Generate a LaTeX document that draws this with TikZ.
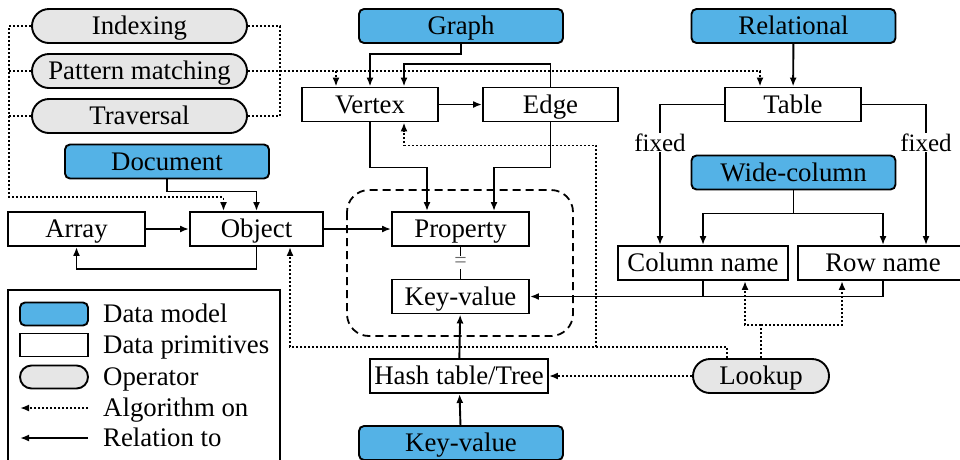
\documentclass[tikz,border=0pt]{standalone}
\usepackage{fontspec}
\setmainfont{Liberation Serif}
\usetikzlibrary{arrows.meta}

\definecolor{modelblue}{RGB}{84,178,230}
\definecolor{opgray}{RGB}{230,230,230}

\tikzset{
  base/.style={draw, line width=1.9pt, inner sep=0pt, text height=17.5pt, text depth=0pt,
    font=\fontsize{26.8}{30}\selectfont},
  model/.style={base, fill=modelblue, rounded corners=5pt, minimum width=204pt, minimum height=34pt},
  prim/.style={base, fill=white, minimum height=34pt},
  oper/.style={base, fill=opgray, rounded corners=17pt, minimum height=34pt},
  legtext/.style={anchor=west, inner sep=0pt, text height=17.5pt, text depth=0pt,
    font=\fontsize{26.8}{30}\selectfont},
  tip/.style={-{Latex[length=9pt,width=7pt]}},
  line/.style={line width=1.9pt},
  rel/.style={line, tip},
  algline/.style={line width=1.8pt, dash pattern=on 2pt off 2pt},
  alg/.style={algline, tip},
  lbl/.style={fill=white, inner sep=1pt, font=\fontsize{25}{28}\selectfont},
  groupbox/.style={line width=1.8pt, dash pattern=on 8pt off 5pt, rounded corners=22pt},
}

\begin{document}
\begin{tikzpicture}[x=1pt, y=-1pt]
\useasboundingbox (0,0) rectangle (960,459);
\clip (0,0) rectangle (960,459);

% operators
\node[oper, minimum width=215pt] (indexing)  at (139.5,26) {Indexing};
\node[oper, minimum width=215pt] (pattern)   at (139.5,71) {Pattern matching};
\node[oper, minimum width=215pt] (traversal) at (139.5,116) {Traversal};
\node[oper, minimum width=136pt] (lookup)    at (761,376) {Lookup};

% data models
\node[model] (document)   at (167,161.5) {Document};
\node[model] (graph)      at (461,26) {Graph};
\node[model] (relational) at (793.5,26) {Relational};
\node[model] (widecol)    at (793.5,172.5) {Wide-column};
\node[model] (kvmodel)    at (461,443) {Key-value};

% data primitives
\node[prim, minimum width=137pt] (array)    at (76.5,229) {Array};
\node[prim, minimum width=133pt] (object)   at (256.5,229) {Object};
\node[prim, minimum width=136pt] (vertex)   at (370,104.5) {Vertex};
\node[prim, minimum width=135pt] (edge)     at (550.5,104.5) {Edge};
\node[prim, minimum width=137pt] (property) at (460.5,229) {Property};
\node[prim, minimum width=137pt] (keyvalue) at (460.5,296.5) {Key-value};
\node[prim, minimum width=178pt] (hash)     at (459,376) {Hash table/Tree};
\node[prim, minimum width=136pt] (table)    at (793,104.5) {Table};
\node[prim, minimum width=170pt] (colname)  at (703,263) {Column name};
\node[prim, minimum width=170pt] (rowname)  at (883,263) {Row name};

% group around property / key-value
\draw[groupbox] (347,190) rectangle (573,336);

% relations
\draw[rel] (graph.south) -- ++(0,10) -| (vertex.north);
\draw[rel] (edge.north) -- ++(0,-23) -| ([xshift=34pt]vertex.north);
\draw[rel] (vertex) -- (edge);
\draw[rel] (vertex.south) -- ++(0,45) -| ([xshift=-33.5pt]property.north);
\draw[rel] (edge.south) -- ++(0,45) -| ([xshift=33.5pt]property.north);
\draw[rel] (document.south) -- ++(0,12) -| (object.north);
\draw[rel] (array) -- (object);
\draw[rel] (object.south) -- ++(0,22) -| (array.south);
\draw[rel] (object) -- (property);
\draw[line width=1pt] (property) -- node[fill=white, inner sep=1.5pt, text=black!60,
  font=\fontsize{22}{24}\selectfont] {=} (keyvalue);
\draw[rel] (relational) -- (table);
\draw[rel] (table.west) -| node[lbl, pos=0.635] {fixed} ([xshift=-43pt]colname.north);
\draw[rel] (table.east) -| node[lbl, pos=0.635] {fixed} ([xshift=43pt]rowname.north);
\draw[line] (widecol.south) -- ++(0,23) coordinate (wcj);
\draw[rel] (wcj) -| (colname.north);
\draw[rel] (wcj) -| (rowname.north);
\draw[line] (colname.south) -- (colname.south |- keyvalue.east);
\draw[rel] (rowname.south) |- (keyvalue.east);
\draw[rel] (hash) -- (keyvalue);
\draw[rel] (kvmodel) -- (hash);

% algorithms
\draw[alg] (indexing.west) -- ++(-22,0) -- ++(0,171) -| ([xshift=-33pt]object.north);
\draw[algline] (pattern.west) -- ++(-22,0);
\draw[algline] (traversal.west) -- ++(-22,0);
\draw[algline] (indexing.east) -- ++(32,0) |- (traversal.east);
\draw[alg] (pattern.east) -| ([xshift=-33pt]table.north);
\coordinate (vin) at ([xshift=-34pt]vertex.north);
\draw[alg] (vin |- pattern.east) -- (vin);
\coordinate (lk) at ([xshift=-34pt]lookup.north);
\draw[alg] (lk) -- ++(0,-11) -| ([xshift=33.5pt]object.south);
\coordinate (lkj) at (596,347);
\coordinate (vout) at ([xshift=34pt]vertex.south);
\draw[alg] (lkj) |- ([yshift=-23pt]vout) -- (vout);
\draw[algline] (lookup.north) -- ++(0,-33) coordinate (lj);
\draw[alg] (lj) -| ([xshift=42pt]colname.south);
\draw[alg] (lj) -| ([xshift=-41pt]rowname.south);
\draw[alg] (lookup) -- (hash);

% legend
\draw[line] (8,290) rectangle (280,475);
\node[base, fill=modelblue, rounded corners=5pt, minimum width=68pt, minimum height=23pt] (lgmodel) at (54,314) {};
\node[base, fill=white, minimum width=68pt, minimum height=23pt] (lgprim) at (54,345) {};
\node[base, fill=opgray, rounded corners=11.5pt, minimum width=68pt, minimum height=23pt] (lgoper) at (54,377) {};
\coordinate (lgalgA) at (88,408);
\coordinate (lgalgB) at (20,408);
\coordinate (lgrelA) at (88,438);
\coordinate (lgrelB) at (20,438);
\draw[alg] (lgalgA) -- (lgalgB);
\draw[rel] (lgrelA) -- (lgrelB);
\node[legtext] (tmodel) at (103,314) {Data model};
\node[legtext] (tprim)  at (103,345) {Data primitives};
\node[legtext] (toper)  at (103,377) {Operator};
\node[legtext] (talg)   at (103,408) {Algorithm on};
\node[legtext] (trel)   at (103,438) {Relation to};
\end{tikzpicture}
\end{document}
